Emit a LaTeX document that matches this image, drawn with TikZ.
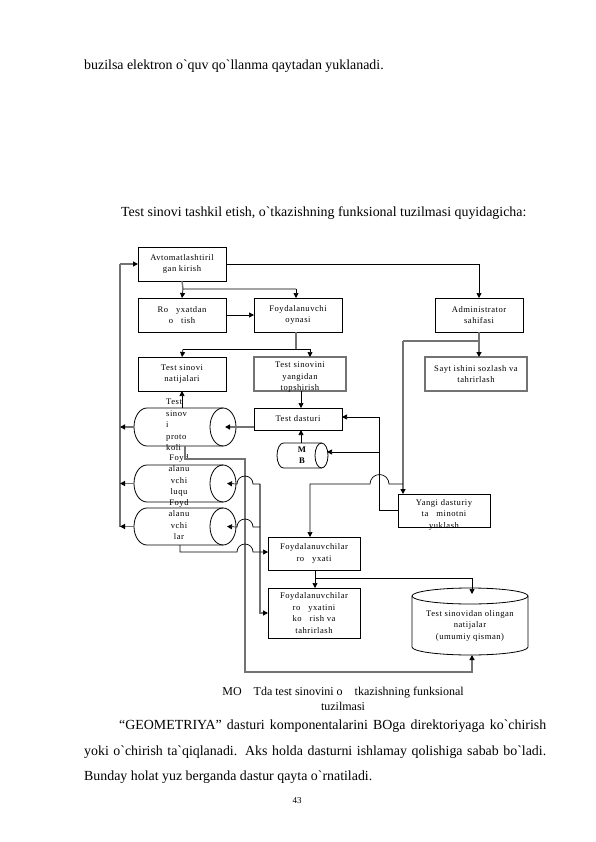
\documentclass[tikz,border=0pt]{standalone}
\usepackage{fontspec}
\setmainfont{Liberation Serif}
\newfontfamily\plainrm{Liberation Serif}
\newfontfamily\diagrm{Liberation Serif}[LetterSpace=6]
\usetikzlibrary{arrows.meta}
\newcommand\gp{\hspace{8pt}}
\newcommand\gpc{\hspace{12pt}}
\newcommand\hcyl[6]{% name, x1, y1, x2, y2, rx
  \pgfmathsetmacro\ha{#2+#6}\pgfmathsetmacro\hb{#4-#6}%
  \pgfmathsetmacro\hm{(#3+#5)/2}\pgfmathsetmacro\hr{(#5-#3)/2}%
  \pgfmathsetmacro\hw{#4-#2}\pgfmathsetmacro\hh{#5-#3}%
  \node[inner sep=0pt, outer sep=0pt, minimum width=\hw pt, minimum height=\hh pt, anchor=north west] (#1) at (#2,#3) {};
  \coordinate (#1-c) at (\hb,\hm);
  \draw[cyl] (\hb,#3) -- (\ha,#3) arc[start angle=90, end angle=270, x radius=#6pt, y radius=\hr pt] -- (\hb,#5);
  \draw[cyl] (#1-c) ellipse[x radius=#6pt, y radius=\hr pt];
}
\begin{document}
\begin{tikzpicture}[x=1pt,y=-1pt,
  dfont/.style={font=\diagrm\fontsize{8.6}{11.5}\selectfont},
  box/.style={draw=black, line width=0.8pt, inner sep=1pt, outer sep=0pt, anchor=north west, dfont, align=center},
  gbox/.style={box, draw=black!55, line width=1.4pt},
  cyl/.style={draw=black, line width=0.8pt},
  ln/.style={line width=0.7pt, black},
  gl/.style={line width=1.4pt, black!55},
  arr/.style={-{Triangle[length=5pt,width=5pt,color=black]}},
  body/.style={anchor=base west, font=\plainrm\fontsize{13.9}{15}\selectfont, inner sep=0pt}
]
\useasboundingbox[fill=white] (0,0) rectangle (595,842);

% page text
\node[body] (t1) at (84,70) {buzilsa elektron o`quv qo`llanma qaytadan yuklanadi.};
\node[body] (t2) at (121,216) {Test sinovi tashkil etish, o`tkazishning funksional tuzilmasi quyidagicha:};

% boxes
\node[box, minimum width=88pt, minimum height=34pt] (avto) at (138,247) {Avtomatlashtiril\\gan kirish};
\node[box, minimum width=88pt, minimum height=34pt] (royx) at (138,298) {Ro\gp yxatdan\\o\gp tish};
\node[box, minimum width=88pt, minimum height=34pt] (oyna) at (254,298) {Foydalanuvchi\\oynasi};
\node[box, minimum width=88pt, minimum height=34pt] (admin) at (435,298) {Administrator\\sahifasi};
\node[box, minimum width=88pt, minimum height=34pt] (nat) at (138,357) {Test sinovi\\natijalari};
\node[gbox, minimum width=92pt, minimum height=34pt] (sinovini) at (254,357) {};
\node[dfont, align=center, anchor=north, inner sep=0pt] (sinovini-t) at (300,362) {Test sinovini\\yangidan\\topshirish};
\node[gbox, minimum width=102pt, minimum height=34pt] (sayt) at (425,357) {Sayt ishini sozlash va\\tahrirlash};
\node[box, minimum width=88pt, minimum height=22pt] (dast) at (254,408) {Test dasturi};
\node[box, minimum width=92pt, minimum height=33pt] (yangi) at (398,494) {};
\node[dfont, align=center, anchor=north, inner sep=0pt] (yangi-t) at (444,499) {Yangi dasturiy\\ta\gp minotni\\yuklash};
\node[box, minimum width=92pt, minimum height=33pt] (fr) at (268,537) {Foydalanuvchilar\\ro\gp yxati};
\node[box, minimum width=92pt, minimum height=50pt] (fr2) at (268,588) {Foydalanuvchilar\\ro\gp yxatini\\ko\gp rish va\\tahrirlash};

% cylinders
\hcyl{prot}{134}{408}{236}{446}{13}
\hcyl{luqu}{134}{465}{236}{502}{13}
\hcyl{lar}{134}{508}{236}{545}{13}
\hcyl{mb}{277}{443}{328}{468}{6.5}
\node[dfont, align=left, anchor=north west, inner sep=0pt] (prot-t) at (166,399) {Test\\sinov\\i\\proto\\koli};
\node[dfont, align=center, anchor=north, inner sep=0pt] (luqu-t) at (179,454) {Foyd\\alanu\\vchi\\luqu};
\node[dfont, align=center, anchor=north, inner sep=0pt] (lar-t) at (179,499) {Foyd\\alanu\\vchi\\lar};
\node[align=center, anchor=north, inner sep=0pt, font=\plainrm\bfseries\fontsize{8.6}{11}\selectfont] (mb-t) at (302,447) {M\\B};

% vertical cylinder (results)
\node[inner sep=0pt, outer sep=0pt, minimum width=116pt, minimum height=67pt, anchor=north west] (res) at (412,588) {};
\draw[cyl] (412,596) -- (412,647) arc[start angle=180, end angle=360, x radius=58pt, y radius=8pt] -- (528,596);
\draw[cyl] (470,596) ellipse[x radius=58pt, y radius=8pt];
\node[dfont, align=center, anchor=north, inner sep=0pt] (res-t) at (470,610) {Test sinovidan olingan\\natijalar\\(umumiy qisman)};

% connectors
\draw[ln,arr] (avto.east) -| (admin.north);
\coordinate (j1) at (183,289);
\coordinate (j2) at (296,289);
\draw[gl] (avto.south) -- (j1) -- (j2);
\draw[ln,arr] (j1) -- (royx.north);
\draw[ln,arr] (j2) -- (j2 |- oyna.north);
\draw[ln,arr] (royx.east) -- (oyna.west);
\coordinate (j3) at (296,349);
\coordinate (j4) at (183,349);
\coordinate (j5) at (310,349);
\draw[gl] (j2 |- oyna.south) -- (j3);
\draw[ln] (j4) -- (j5);
\draw[ln,arr] (j4) -- (nat.north);
\draw[ln,arr] (j5) -- (j5 |- sinovini.north);
\coordinate (j6) at (301,391);
\draw[ln,arr] (j6) -- (j6 |- dast.north);
\draw[gl,arr] (dast.west |- prot-c) -- ([xshift=2pt]prot-c);
\draw[ln,arr] (nat.south |- prot.north) -- (nat.south);
\draw[ln,arr] (mb.north -| j6) -- (j6 |- dast.south);

% left bus
\coordinate (bt) at (120,264);
\coordinate (bb) at (120,527);
\draw[gl] (bb) -- (bt);
\draw[gl,arr] (bt) -- (avto.west);
\draw[gl,arr] (prot.west) -- (prot.west -| bt);
\draw[gl,arr] (luqu.west) -- (luqu.west -| bt);
\draw[gl,arr] (lar.west) -- (lar.west -| bt);

% administrator branch
\coordinate (a1) at (admin.south |- 0,341);
\coordinate (a2) at (403,341);
\draw[gl,arr] (admin.south) -- (admin.south |- sayt.north);
\draw[gl] (a1) -- (a2);
\draw[gl,arr] (a2) -- (a2 |- yangi.north);
\coordinate (h1) at (403,484);
\coordinate (h2) at (310,484);
\draw[ln,arr] (h1) -- (389,484) arc[start angle=0, end angle=180, radius=9.5pt] -- (h2) -- (h2 |- fr.north);

% yangi -> dasturi, MB
\coordinate (v1) at (379,417);
\coordinate (v2) at (379,452);
\draw[ln,arr] (yangi.west) -| (v1) -- (v1 -| dast.east);
\draw[ln,arr] (v2) -- (327,452);

% fr -> fr2, results
\coordinate (k1) at (315,578);
\coordinate (k2) at (472,578);
\draw[ln] (k1 |- fr.south) -- (k1) -- (k2);
\draw[ln,arr] (k1) -- (k1 |- fr2.north);
\draw[ln,arr] (k2) -- (472,594);

% protocol -> results (bottom loop)
\coordinate (b1) at (185,459);
\coordinate (b2) at (245,459);
\coordinate (b3) at (245,672);
\coordinate (b4) at (472,672);
\draw[gl,arr] (b1 |- prot.south) -- (b1) -- (b2) -- (b3) -- (b4) -- (b4 |- res.south);

% x=260 line
\coordinate (c1) at (260,484);
\coordinate (c2) at (260,527);
\coordinate (c3) at (260,613);
\draw[gl,arr] (c1) -- (c3) -- (c3 -| fr2.west);
\draw[ln,arr] (c1) -- (253,484) arc[start angle=0, end angle=180, radius=8pt] -- ([xshift=4pt]luqu-c);
\draw[ln,arr] (c2) -- (253,527) arc[start angle=0, end angle=180, radius=8pt] -- ([xshift=4pt]lar-c);

% Foydalanuvchilar -> ro`yxati
\coordinate (d1) at (180,552);
\draw[ln,arr] (d1 |- lar.south) -- (d1) -- (237,552) arc[start angle=180, end angle=0, radius=8pt] -- (fr.west |- d1);

% caption and text
\node[font=\plainrm\fontsize{12}{15}\selectfont, anchor=base, inner sep=0pt] (cap1) at (343,695) {MO\gpc Tda test sinovini o\gpc tkazishning funksional};
\node[font=\plainrm\fontsize{12}{15}\selectfont, anchor=base, inner sep=0pt] (cap2) at (343,710) {tuzilmasi};
\node[body] (p1) at (119,729) {\makebox[427pt][s]{“GEOMETRIYA” dasturi komponentalarini BOga direktoriyaga ko`chirish}};
\node[body] (p2) at (84,755) {\makebox[462pt][s]{yoki o`chirish ta`qiqlanadi. Aks holda dasturni ishlamay qolishiga sabab bo`ladi.}};
\node[body] (p3) at (84,780) {Bunday holat yuz berganda dastur qayta o`rnatiladi.};
\node[font=\plainrm\fontsize{9}{11}\selectfont, anchor=base, inner sep=0pt] (pg) at (297,803) {43};
\end{tikzpicture}
\end{document}
